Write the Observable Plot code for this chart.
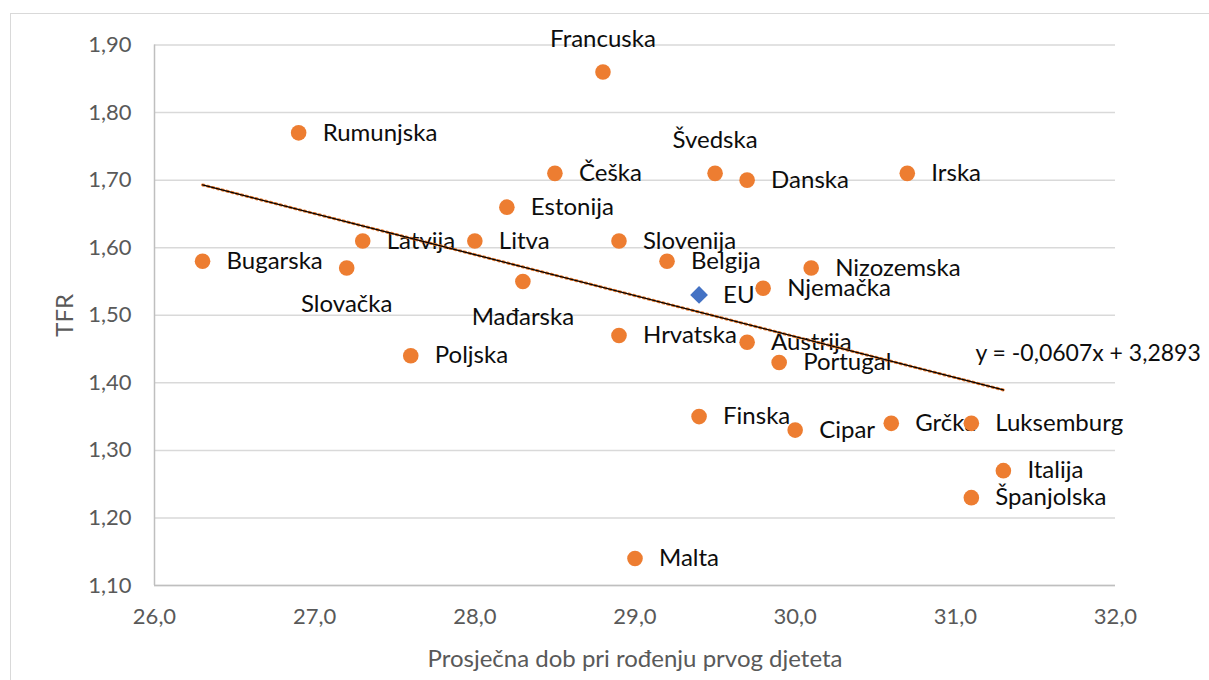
<!DOCTYPE html>
<html>
<head>
<meta charset="utf-8">
<script src="https://cdn.jsdelivr.net/npm/d3@7"></script>
<script src="https://cdn.jsdelivr.net/npm/@observablehq/plot@0.6"></script>
<style>
  html, body { margin: 0; padding: 0; background: #fff; overflow: hidden; }
  #wrap { position: relative; width: 1209px; height: 680px; }
  #border { position: absolute; left: 10px; top: 13px; width: 1400px; height: 900px; border: 1.5px solid #d9d9d9; box-sizing: border-box; }
  #chart { position: absolute; left: 0; top: 0; }
</style>
</head>
<body>
<div id="wrap"><div id="border"></div><div id="chart"></div></div>
<script>
const countries = ["Francuska","Rumunjska","Češka","Švedska","Danska","Irska","Estonija","Latvija","Litva","Slovenija","Bugarska","Slovačka","Mađarska","Belgija","Nizozemska","Njemačka","Hrvatska","Austrija","Portugal","Poljska","Finska","Cipar","Grčka","Luksemburg","Italija","Španjolska","Malta"];
const ageFirstBirth = [28.8,26.9,28.5,29.5,29.7,30.7,28.2,27.3,28.0,28.9,26.3,27.2,28.3,29.2,30.1,29.8,28.9,29.7,29.9,27.6,29.4,30.0,30.6,31.1,31.3,31.1,29.0];
const tfr = [1.86,1.77,1.71,1.71,1.70,1.71,1.66,1.61,1.61,1.61,1.58,1.57,1.55,1.58,1.57,1.54,1.47,1.46,1.43,1.44,1.35,1.33,1.34,1.34,1.27,1.23,1.14];

const euName = ["EU"];
const euAge = [29.4];
const euTfr = [1.53];

const trendSlope = -0.0607;
const trendIntercept = 3.2893;
const trendLabel = "y = -0,0607x + 3,2893";

const yTicks = [1.1,1.2,1.3,1.4,1.5,1.6,1.7,1.8,1.9];
const xTicks = [26,27,28,29,30,31,32];

const xTitle = "Prosječna dob pri rođenju prvog djeteta";
const yTitle = "TFR";

// build tables
const pts = countries.map((c, i) => ({name: c, x: ageFirstBirth[i], y: tfr[i]}));
const eu = euName.map((c, i) => ({name: c, x: euAge[i], y: euTfr[i]}));
const ext = d3.extent(ageFirstBirth);
const trend = ext.map(x => ({x, y: trendSlope * x + trendIntercept}));

const aboveSet = new Set(["Francuska","Švedska"]);
const belowSet = new Set(["Slovačka","Mađarska"]);
const rightPts = pts.filter(d => !aboveSet.has(d.name) && !belowSet.has(d.name));
const abovePts = pts.filter(d => aboveSet.has(d.name));
const belowPts = pts.filter(d => belowSet.has(d.name));

const orange = "#ED7D31";
const blue = "#4472C4";
const font = "Lato, 'Open Sans', sans-serif";
const lblSize = 24;
const lblColor = "#0d0d0d";

const chart = Plot.plot({
  width: 1209,
  height: 680,
  marginLeft: 154,
  marginRight: 94,
  marginTop: 44.5,
  marginBottom: 95,
  style: {fontFamily: font, fontSize: "22px", color: "#595959", background: "transparent", overflow: "visible"},
  x: {domain: [26, 32], ticks: xTicks, tickFormat: d => d.toFixed(1).replace(".", ","), tickSize: 0, tickPadding: 23, label: null},
  y: {domain: [1.1, 1.9], ticks: yTicks, tickFormat: d => d.toFixed(2).replace(".", ","), tickSize: 0, tickPadding: 23, label: null},
  marks: [
    Plot.gridY(yTicks, {stroke: "#d9d9d9", strokeOpacity: 1, strokeWidth: 1.5}),
    Plot.ruleX([26], {stroke: "#bfbfbf", strokeWidth: 1.5}),
    Plot.ruleY([1.1], {stroke: "#bfbfbf", strokeWidth: 1.5}),
    Plot.text([xTitle], {frameAnchor: "bottom", text: d => d, dy: 74, lineAnchor: "middle", fill: "#595959", fontSize: lblSize, fontFamily: font}),
    Plot.text([yTitle], {frameAnchor: "left", text: d => d, dx: -89, rotate: -90, lineAnchor: "middle", textAnchor: "middle", fill: "#595959", fontSize: lblSize, fontFamily: font}),
    Plot.text(rightPts, {x: "x", y: "y", text: "name", dx: 24, textAnchor: "start", fill: lblColor, fontSize: lblSize, fontFamily: font}),
    Plot.text(abovePts, {x: "x", y: "y", text: "name", dy: -33, textAnchor: "middle", fill: lblColor, fontSize: lblSize, fontFamily: font}),
    Plot.text(belowPts, {x: "x", y: "y", text: "name", dy: 36, textAnchor: "middle", fill: lblColor, fontSize: lblSize, fontFamily: font}),
    Plot.text(eu, {x: "x", y: "y", text: "name", dx: 24, textAnchor: "start", fill: lblColor, fontSize: lblSize, fontFamily: font}),
    Plot.dot(pts, {x: "x", y: "y", r: 7.8, fill: orange, stroke: "none"}),
    Plot.dot(eu, {x: "x", y: "y", r: 8, symbol: "diamond2", fill: blue, stroke: "none"}),
    Plot.line(trend, {x: "x", y: "y", stroke: orange, strokeWidth: 3, strokeDasharray: "1.5,3.5"}),
    Plot.line(trend, {x: "x", y: "y", stroke: "#000", strokeWidth: 1.3}),
    Plot.text([trendLabel], {x: () => trend[1].x, y: () => trend[1].y, text: d => d, dx: -28, dy: -36, textAnchor: "start", fill: lblColor, fontSize: 23, fontFamily: font})
  ]
});
document.getElementById("chart").appendChild(chart);
</script>
</body>
</html>
